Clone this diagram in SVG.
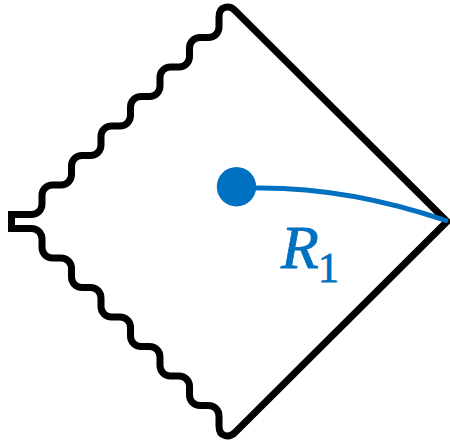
<svg xmlns="http://www.w3.org/2000/svg" width="450" height="442" viewBox="0 0 450 442">
<style>
.edge{fill:none;stroke:#000;stroke-width:7;stroke-linejoin:miter;stroke-miterlimit:10}
.blue{fill:none;stroke:#0070C0;stroke-width:5;stroke-linecap:round}
.lbl{fill:#0070C0;stroke:#0070C0;stroke-width:0.8;font-family:"Liberation Serif","DejaVu Serif",serif}
</style>
<rect width="450" height="442" fill="#fff"/>
<g id="region">
<path class="edge" d="M 447 221.5 L 235 10.5 C 230 5.5 219 5 219 17 L 219 27 A 10.5 10.5 0 0 1 208.5 37.5 L 200 37.5 A 10.5 10.5 0 0 0 189.5 48 L 189.5 56.5 A 10.5 10.5 0 0 1 179 67 L 170.5 67 A 10.5 10.5 0 0 0 160 77.5 L 160 86 A 10.5 10.5 0 0 1 149.5 96.5 L 141 96.5 A 10.5 10.5 0 0 0 130.5 107 L 130.5 115.5 A 10.5 10.5 0 0 1 120 126 L 111.5 126 A 10.5 10.5 0 0 0 101 136.5 L 101 145 A 10.5 10.5 0 0 1 90.5 155.5 L 82 155.5 A 10.5 10.5 0 0 0 71.5 166 L 71.5 174.5 A 10.5 10.5 0 0 1 61 185 L 52.5 185 A 10.5 10.5 0 0 0 42 195.5 L 42 204 A 10.5 10.5 0 0 1 31.5 214.5 L 11.5 214.5 L 11.5 228.5 L 31.5 228.5 A 10.5 10.5 0 0 1 42 239 L 42 247.5 A 10.5 10.5 0 0 0 52.5 258 L 61 258 A 10.5 10.5 0 0 1 71.5 268.5 L 71.5 277 A 10.5 10.5 0 0 0 82 287.5 L 90.5 287.5 A 10.5 10.5 0 0 1 101 298 L 101 306.5 A 10.5 10.5 0 0 0 111.5 317 L 120 317 A 10.5 10.5 0 0 1 130.5 327.5 L 130.5 336 A 10.5 10.5 0 0 0 141 346.5 L 149.5 346.5 A 10.5 10.5 0 0 1 160 357 L 160 365.5 A 10.5 10.5 0 0 0 170.5 376 L 179 376 A 10.5 10.5 0 0 1 189.5 386.5 L 189.5 395 A 10.5 10.5 0 0 0 200 405.5 L 208.5 405.5 A 10.5 10.5 0 0 1 219 416 L 219 426 C 219 438 230 437.5 235 432.5 Z"/>
</g>
<g id="connectors">
<path class="blue" d="M 250 188 Q 345 186 446 220.5"/>
</g>
<g id="point">
<circle cx="236.5" cy="186.8" r="19.7" fill="#0070C0"/>
</g>
<g id="label">
<text class="lbl" x="281" y="268" font-size="62" font-style="italic">R<tspan x="318" y="282" font-size="42" font-style="normal">1</tspan></text>
</g>
</svg>
